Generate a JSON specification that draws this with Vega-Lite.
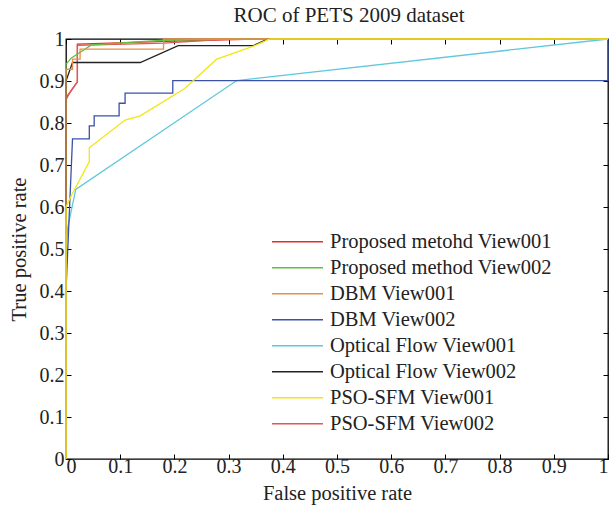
{
  "$schema": "https://vega.github.io/schema/vega-lite/v6.json",
  "width": 542,
  "height": 420,
  "autosize": {"type": "none"},
  "padding": {"left": 66, "top": 39, "right": 5, "bottom": 47},
  "background": "white",
  "title": {"text": "ROC of PETS 2009 dataset", "font": "Liberation Serif", "fontSize": 21, "fontWeight": "normal", "color": "#222222", "offset": 3, "dx": 12},
  "config": {
    "view": {"stroke": "#000000", "strokeWidth": 1.3},
    "axis": {
      "domain": false,
      "grid": false,
      "tickColor": "#000000",
      "tickSize": -5,
      "tickWidth": 1,
      "labelFont": "Liberation Serif",
      "labelFontSize": 20,
      "labelColor": "#222222",
      "titleFont": "Liberation Serif",
      "titleFontSize": 20.5,
      "titleFontWeight": "normal",
      "titleColor": "#222222"
    },
    "legend": {
      "labelFont": "Liberation Serif",
      "labelFontSize": 20.5,
      "labelColor": "#222222",
      "labelLimit": 400
    }
  },
  "data": {"values": [
    {"s": "Proposed metohd View001", "i": 0, "x": 0, "y": 0},
    {"s": "Proposed metohd View001", "i": 1, "x": 0, "y": 0.86},
    {"s": "Proposed metohd View001", "i": 2, "x": 0.021, "y": 0.898},
    {"s": "Proposed metohd View001", "i": 3, "x": 0.021, "y": 0.988},
    {"s": "Proposed metohd View001", "i": 4, "x": 0.2, "y": 0.995},
    {"s": "Proposed metohd View001", "i": 5, "x": 0.35, "y": 1},
    {"s": "Proposed metohd View001", "i": 6, "x": 1, "y": 1},
    {"s": "PSO-SFM View002", "i": 0, "x": 0, "y": 0},
    {"s": "PSO-SFM View002", "i": 1, "x": 0, "y": 0.855},
    {"s": "PSO-SFM View002", "i": 2, "x": 0.006, "y": 0.87},
    {"s": "PSO-SFM View002", "i": 3, "x": 0.021, "y": 0.898},
    {"s": "PSO-SFM View002", "i": 4, "x": 0.021, "y": 0.985},
    {"s": "PSO-SFM View002", "i": 5, "x": 0.18, "y": 0.99},
    {"s": "PSO-SFM View002", "i": 6, "x": 0.3, "y": 1},
    {"s": "PSO-SFM View002", "i": 7, "x": 1, "y": 1},
    {"s": "Proposed method View002", "i": 0, "x": 0, "y": 0},
    {"s": "Proposed method View002", "i": 1, "x": 0, "y": 0.94},
    {"s": "Proposed method View002", "i": 2, "x": 0.01, "y": 0.955},
    {"s": "Proposed method View002", "i": 3, "x": 0.047, "y": 0.986},
    {"s": "Proposed method View002", "i": 4, "x": 0.18, "y": 0.997},
    {"s": "Proposed method View002", "i": 5, "x": 0.3, "y": 1},
    {"s": "Proposed method View002", "i": 6, "x": 1, "y": 1},
    {"s": "Optical Flow View002", "i": 0, "x": 0, "y": 0},
    {"s": "Optical Flow View002", "i": 1, "x": 0, "y": 0.9},
    {"s": "Optical Flow View002", "i": 2, "x": 0.012, "y": 0.944},
    {"s": "Optical Flow View002", "i": 3, "x": 0.137, "y": 0.944},
    {"s": "Optical Flow View002", "i": 4, "x": 0.207, "y": 0.984},
    {"s": "Optical Flow View002", "i": 5, "x": 0.345, "y": 0.984},
    {"s": "Optical Flow View002", "i": 6, "x": 0.373, "y": 1},
    {"s": "Optical Flow View002", "i": 7, "x": 1, "y": 1},
    {"s": "Optical Flow View001", "i": 0, "x": 0, "y": 0},
    {"s": "Optical Flow View001", "i": 1, "x": 0, "y": 0.5},
    {"s": "Optical Flow View001", "i": 2, "x": 0.003, "y": 0.55},
    {"s": "Optical Flow View001", "i": 3, "x": 0.018, "y": 0.642},
    {"s": "Optical Flow View001", "i": 4, "x": 0.315, "y": 0.901},
    {"s": "Optical Flow View001", "i": 5, "x": 1, "y": 1},
    {"s": "DBM View002", "i": 0, "x": 0, "y": 0},
    {"s": "DBM View002", "i": 1, "x": 0, "y": 0.4},
    {"s": "DBM View002", "i": 2, "x": 0.012, "y": 0.762},
    {"s": "DBM View002", "i": 3, "x": 0.043, "y": 0.762},
    {"s": "DBM View002", "i": 4, "x": 0.043, "y": 0.793},
    {"s": "DBM View002", "i": 5, "x": 0.052, "y": 0.793},
    {"s": "DBM View002", "i": 6, "x": 0.052, "y": 0.817},
    {"s": "DBM View002", "i": 7, "x": 0.098, "y": 0.817},
    {"s": "DBM View002", "i": 8, "x": 0.098, "y": 0.847},
    {"s": "DBM View002", "i": 9, "x": 0.109, "y": 0.847},
    {"s": "DBM View002", "i": 10, "x": 0.109, "y": 0.871},
    {"s": "DBM View002", "i": 11, "x": 0.197, "y": 0.871},
    {"s": "DBM View002", "i": 12, "x": 0.197, "y": 0.901},
    {"s": "DBM View002", "i": 13, "x": 1, "y": 0.901},
    {"s": "DBM View002", "i": 14, "x": 1, "y": 1},
    {"s": "DBM View001", "i": 0, "x": 0, "y": 0},
    {"s": "DBM View001", "i": 1, "x": 0, "y": 0.928},
    {"s": "DBM View001", "i": 2, "x": 0.012, "y": 0.928},
    {"s": "DBM View001", "i": 3, "x": 0.012, "y": 0.952},
    {"s": "DBM View001", "i": 4, "x": 0.026, "y": 0.952},
    {"s": "DBM View001", "i": 5, "x": 0.026, "y": 0.976},
    {"s": "DBM View001", "i": 6, "x": 0.18, "y": 0.976},
    {"s": "DBM View001", "i": 7, "x": 0.18, "y": 1},
    {"s": "DBM View001", "i": 8, "x": 1, "y": 1},
    {"s": "PSO-SFM View001", "i": 0, "x": 0, "y": 0},
    {"s": "PSO-SFM View001", "i": 1, "x": 0, "y": 0.6},
    {"s": "PSO-SFM View001", "i": 2, "x": 0.009, "y": 0.625},
    {"s": "PSO-SFM View001", "i": 3, "x": 0.043, "y": 0.708},
    {"s": "PSO-SFM View001", "i": 4, "x": 0.043, "y": 0.741},
    {"s": "PSO-SFM View001", "i": 5, "x": 0.109, "y": 0.807},
    {"s": "PSO-SFM View001", "i": 6, "x": 0.137, "y": 0.817},
    {"s": "PSO-SFM View001", "i": 7, "x": 0.219, "y": 0.882},
    {"s": "PSO-SFM View001", "i": 8, "x": 0.278, "y": 0.952},
    {"s": "PSO-SFM View001", "i": 9, "x": 0.346, "y": 0.983},
    {"s": "PSO-SFM View001", "i": 10, "x": 0.376, "y": 1},
    {"s": "PSO-SFM View001", "i": 11, "x": 1, "y": 1}
  ]},
  "layer": [
    {
      "mark": {"type": "line", "strokeWidth": 1.3, "clip": false},
      "encoding": {
        "x": {"field": "x", "type": "quantitative", "scale": {"domain": [0, 1], "nice": false, "zero": false},
              "axis": {"title": "False positive rate", "values": [0,0.1,0.2,0.3,0.4,0.5,0.6,0.7,0.8,0.9,1], "format": "~g", "labelPadding": 2, "titlePadding": 7}},
        "y": {"field": "y", "type": "quantitative", "scale": {"domain": [0, 1], "nice": false, "zero": false},
              "axis": {"title": "True positive rate", "values": [0,0.1,0.2,0.3,0.4,0.5,0.6,0.7,0.8,0.9,1], "format": "~g", "labelPadding": 7, "titlePadding": 10}},
        "color": {"field": "s", "type": "nominal",
          "scale": {"domain": ["Proposed metohd View001", "Proposed method View002", "DBM View001", "DBM View002", "Optical Flow View001", "Optical Flow View002", "PSO-SFM View001", "PSO-SFM View002"],
                    "range": ["#ea2a2a", "#5fc23c", "#e88e4a", "#3a52a8", "#5ec8dc", "#222222", "#f2e615", "#e05858"]},
          "legend": {"title": null, "orient": "none", "legendX": 205, "legendY": 190, "symbolType": "stroke", "symbolSize": 2600, "symbolStrokeWidth": 1.5, "rowPadding": 0, "clipHeight": 25.7, "labelOffset": 6}},
        "order": {"field": "i", "type": "quantitative"}
      }
    },
    {
      "mark": {"type": "point", "opacity": 0},
      "encoding": {
        "x": {"field": "x", "type": "quantitative", "scale": {"domain": [0, 1], "nice": false, "zero": false},
              "axis": {"orient": "top", "title": null, "labels": false, "values": [0,0.1,0.2,0.3,0.4,0.5,0.6,0.7,0.8,0.9,1]}},
        "y": {"field": "y", "type": "quantitative", "scale": {"domain": [0, 1], "nice": false, "zero": false},
              "axis": {"orient": "right", "title": null, "labels": false, "values": [0,0.1,0.2,0.3,0.4,0.5,0.6,0.7,0.8,0.9,1]}}
      }
    }
  ],
  "resolve": {"axis": {"x": "independent", "y": "independent"}}
}
